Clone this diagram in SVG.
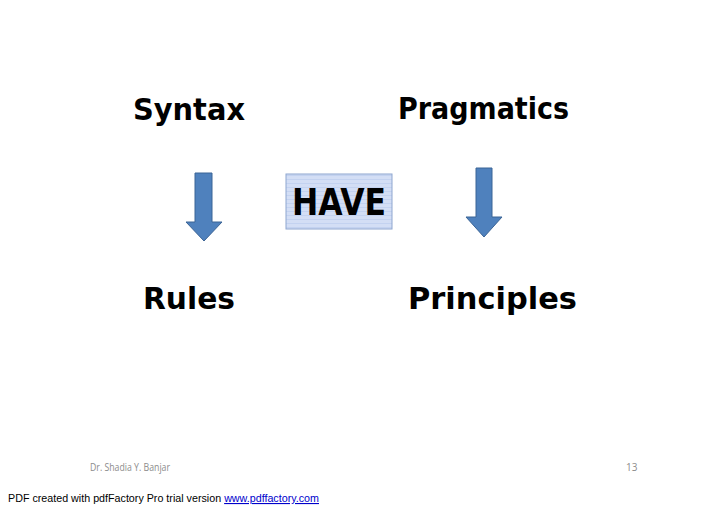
<svg xmlns="http://www.w3.org/2000/svg" width="728" height="514" viewBox="0 0 728 514">
<style>
.t{font-family:"DejaVu Sans",Verdana,sans-serif;font-weight:bold;font-size:31px;fill:#000}
.arrow{fill:#4f81bd;stroke:#3b6496;stroke-width:1}
.foot{font-family:"Open Sans","DejaVu Sans",sans-serif;font-size:10px;fill:#8c8c8c}
.pdf{font-family:"Liberation Sans",Arial,sans-serif;font-size:11px;fill:#000}
</style>
<defs>
<pattern id="stripes" width="4" height="4" patternUnits="userSpaceOnUse">
<rect width="4" height="4" fill="#d3def5"/>
<rect y="3" width="4" height="1" fill="#c3d2f0"/>
</pattern>
</defs>
<rect width="728" height="514" fill="#fff"/>
<g id="syntax"><text class="t" x="133" y="120" textLength="112" lengthAdjust="spacingAndGlyphs">Syntax</text></g>
<g id="pragmatics"><text class="t" x="398" y="119" textLength="171" lengthAdjust="spacingAndGlyphs">Pragmatics</text></g>
<g id="rules"><text class="t" x="143" y="309" textLength="92" lengthAdjust="spacingAndGlyphs">Rules</text></g>
<g id="principles"><text class="t" x="408" y="309" textLength="169" lengthAdjust="spacingAndGlyphs">Principles</text></g>
<g id="have">
<rect x="286" y="174" width="106" height="55" fill="url(#stripes)" stroke="#8ea6cf" stroke-width="1"/>
<text x="292" y="215" font-family="DejaVu Sans Condensed,DejaVu Sans,sans-serif" font-weight="bold" font-size="38" textLength="94" lengthAdjust="spacingAndGlyphs">HAVE</text>
</g>
<g id="connectors">
<path class="arrow" d="M195,173 H212 V222 H222 L204,241 L186,222 H195 Z"/>
<path class="arrow" d="M476,168 H492 V217 H502 L484,237 L466,217 H476 Z"/>
</g>
<g id="footer">
<text class="foot" x="90" y="471" textLength="80" lengthAdjust="spacingAndGlyphs">Dr. Shadia Y. Banjar</text>
<text class="foot" x="626" y="471">13</text>
<text class="pdf" x="8" y="502" textLength="311" lengthAdjust="spacingAndGlyphs">PDF created with pdfFactory Pro trial version <tspan fill="#0000cc" text-decoration="underline">www.pdffactory.com</tspan></text>
</g>
</svg>
